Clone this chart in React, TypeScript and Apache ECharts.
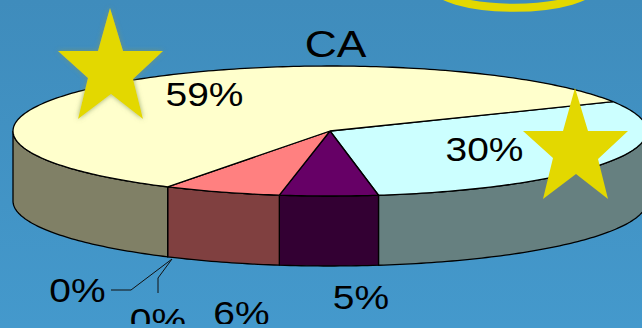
import React, { useEffect, useRef } from "react";
import * as echarts from "echarts";

// Share of each slice in percent, clockwise from the start angle.
const sliceNames = ["Cyan", "Purple", "Pink", "Zero A", "Zero B", "Cream"];
const sliceValues = [30, 5, 6, 0, 0, 59];
const topColors = ["#CCFFFF", "#660066", "#FF8080", "#808080", "#808080", "#FFFFCC"];
const wallColors = ["#668080", "#330033", "#804040", "#404040", "#404040", "#808066"];
// Where each percentage label sits, in slice order.
const labelCenters = [
  [484.5, 150],
  [361, 298],
  [241.5, 314],
  [158, 321],
  [77.5, 291],
  [204.5, 95],
];

const chartTitle = "CA";

// Pie geometry: ellipse centre, radii and height of the side wall.
const CX = 330;
const CY = 131;
const RX = 317;
const RY = 65;
const DEPTH = 70;
const START_DEG = 26.8;

const STAR = [
  [110, 8], [123, 51], [163, 51], [133, 79], [143, 119],
  [111, 94], [78, 119], [88, 78], [58, 51], [98, 51],
];

const onEllipse = (deg: number, dy = 0) => {
  const r = (deg * Math.PI) / 180;
  return [CX + RX * Math.cos(r), CY - RY * Math.sin(r) + dy];
};

// Sample an arc between two parametric angles, 1 degree apart.
const arcPoints = (from: number, to: number, dy = 0) => {
  const n = Math.max(2, Math.ceil(Math.abs(to - from)));
  const pts: number[][] = [];
  for (let i = 0; i <= n; i++) pts.push(onEllipse(from + ((to - from) * i) / n, dy));
  return pts;
};

const total = sliceValues.reduce((a, b) => a + b, 0);

const sliceRange = (index: number) => {
  const before = sliceValues.slice(0, index).reduce((a, b) => a + b, 0);
  const a0 = START_DEG - (before / total) * 360;
  const a1 = a0 - (sliceValues[index] / total) * 360;
  return [a0, a1];
};

const outline = { stroke: "#000", lineWidth: 1.3 };

const renderWalls = (params: any, api: any) => {
  const i = params.dataIndex;
  if (api.value(1) <= 0) return { type: "group", children: [] };
  const [a0, a1] = sliceRange(i);
  // Only the front half of the rim (angles -180..0) shows a wall.
  const from = Math.min(a0, 0);
  const to = Math.max(a1, -180);
  if (from <= to) return { type: "group", children: [] };
  const points = [...arcPoints(from, to), ...arcPoints(to, from, DEPTH)];
  return {
    type: "polygon",
    shape: { points },
    style: { fill: wallColors[i], ...outline },
    silent: true,
  };
};

const renderTops = (params: any, api: any) => {
  const i = params.dataIndex;
  if (api.value(1) <= 0) return { type: "group", children: [] };
  const [a0, a1] = sliceRange(i);
  return {
    type: "polygon",
    shape: { points: [[CX, CY], ...arcPoints(a0, a1)] },
    style: { fill: topColors[i], ...outline },
    silent: true,
  };
};

const textEl = (text: string, x: number, y: number, size: number, sx: number) => ({
  type: "text",
  x,
  y,
  scaleX: sx,
  z: 20,
  silent: true,
  style: {
    text,
    x: 0,
    y: 0,
    fill: "#000",
    font: `${size}px "Liberation Sans", Arial, sans-serif`,
    textAlign: "center",
    textVerticalAlign: "middle",
  },
});

const starEl = (x: number, y: number, extra: object = {}) => ({
  type: "polygon",
  x,
  y,
  z: 30,
  silent: true,
  shape: { points: STAR },
  style: { fill: "#E3D800", ...extra },
});

const leader = (points: number[][]) => ({
  type: "polyline",
  z: 15,
  silent: true,
  shape: { points },
  style: { stroke: "#111", lineWidth: 1, fill: "none" },
});

export default function App() {
  const ref = useRef<HTMLDivElement>(null);

  useEffect(() => {
    document.body.style.margin = "0";
    const chart = echarts.init(ref.current!, undefined, { renderer: "svg" });
    const rows = sliceNames.map((name, i) => [i, sliceValues[i], name]);
    chart.setOption({
      animation: false,
      backgroundColor: {
        type: "linear",
        x: 0,
        y: 0,
        x2: 0,
        y2: 1,
        colorStops: [
          { offset: 0, color: "#3F8CBC" },
          { offset: 1, color: "#4499CC" },
        ],
      },
      series: [
        {
          type: "custom",
          coordinateSystem: "none",
          data: rows,
          renderItem: renderWalls,
          z: 2,
          silent: true,
          clip: false,
        },
        {
          type: "custom",
          coordinateSystem: "none",
          data: rows,
          renderItem: renderTops,
          z: 3,
          silent: true,
          clip: false,
        },
      ],
      graphic: [
        {
          type: "ellipse",
          z: 30,
          silent: true,
          shape: { cx: 514, cy: -15.9, rx: 81, ry: 23.6 },
          style: { fill: "none", stroke: "#E3D800", lineWidth: 8 },
        },
        textEl(chartTitle, 335.5, 44, 37, 1.2),
        ...sliceValues.map((v, i) =>
          textEl(`${v}%`, labelCenters[i][0], labelCenters[i][1], 33, 1.18)
        ),
        leader([[172, 259], [131, 290], [111, 290]]),
        leader([[172, 259], [158, 278], [158, 293]]),
        // Band along the lower edge that trims the bottom row of labels.
        {
          type: "rect",
          z: 25,
          silent: true,
          shape: { x: 0, y: 324, width: 642, height: 4 },
          style: { fill: "#4499CC" },
        },
        starEl(0, 0, { shadowBlur: 5, shadowColor: "rgba(130,150,90,0.8)" }),
        starEl(465, 80),
      ],
    });
    return () => chart.dispose();
  }, []);

  return (
    <div
      ref={ref}
      style={{ position: "absolute", left: 0, top: 0, width: 642, height: 328 }}
    />
  );
}
